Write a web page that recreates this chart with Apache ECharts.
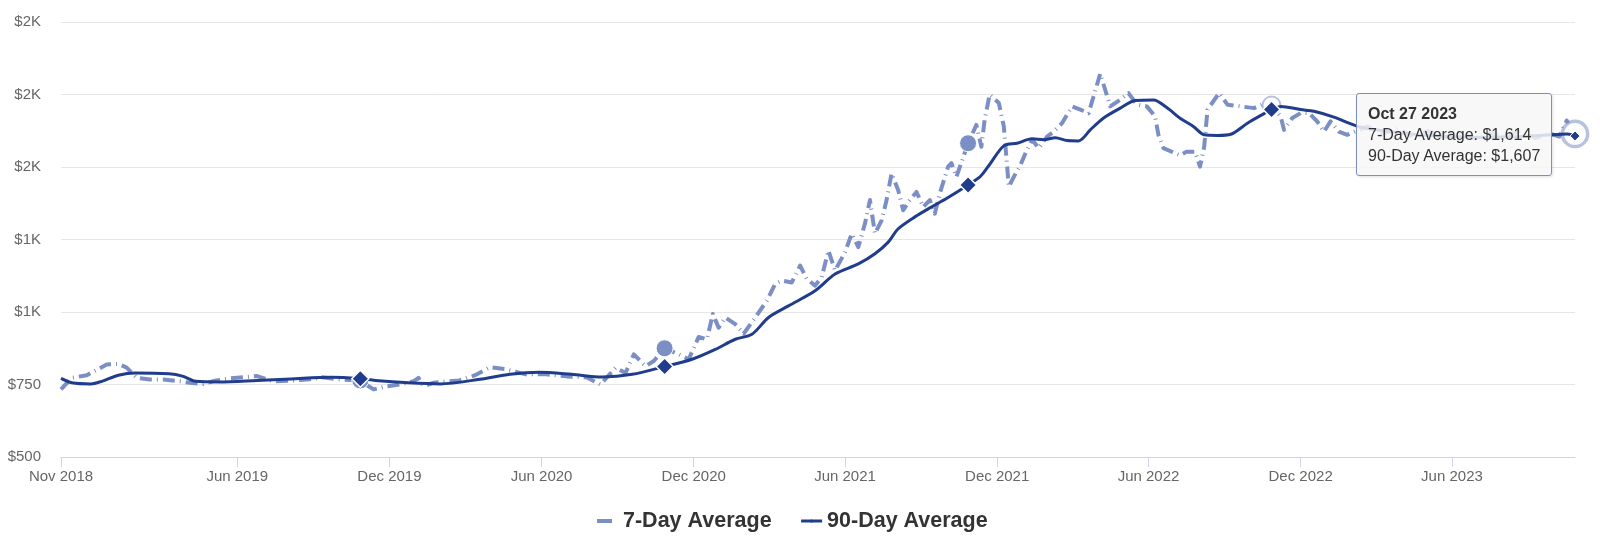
<!DOCTYPE html>
<html>
<head>
<meta charset="utf-8">
<script src="https://cdn.jsdelivr.net/npm/echarts@6/dist/echarts.min.js"></script>
<style>
html,body{margin:0;padding:0;background:#fff;}
#c{width:1600px;height:539px;}
</style>
</head>
<body>
<div id="c"></div>
<script>
// ---- data ----
const dates7 = [
'2018-11-01','2018-11-14','2018-12-02','2018-12-26','2019-01-09','2019-01-19','2019-01-31','2019-02-16','2019-03-04','2019-03-24',
'2019-04-05','2019-04-21','2019-05-07','2019-05-23','2019-06-08','2019-06-25','2019-07-14','2019-08-08','2019-08-24','2019-09-11',
'2019-10-03','2019-10-27','2019-11-06','2019-11-12','2019-11-28','2019-12-14','2019-12-30','2020-01-05','2020-01-11','2020-01-23',
'2020-02-23','2020-03-13','2020-03-31','2020-04-18','2020-05-13','2020-06-06','2020-07-01','2020-07-25','2020-08-11','2020-08-29',
'2020-09-10','2020-09-20','2020-10-04','2020-10-14','2020-10-27','2020-11-13','2020-11-25','2020-12-07','2020-12-17','2020-12-24',
'2020-12-31','2021-01-08','2021-01-20','2021-01-30','2021-02-13','2021-02-27','2021-03-09','2021-03-17','2021-03-29','2021-04-08',
'2021-04-16','2021-04-26','2021-05-04','2021-05-12','2021-05-20','2021-06-01','2021-06-09','2021-06-17','2021-06-25','2021-07-01',
'2021-07-07','2021-07-15','2021-07-21','2021-07-27','2021-08-04','2021-08-10','2021-08-18','2021-08-26','2021-09-03','2021-09-11',
'2021-09-17','2021-09-23','2021-10-03','2021-10-07','2021-10-13','2021-10-27','2021-11-06','2021-11-12','2021-11-16','2021-11-22',
'2021-12-03','2021-12-09','2021-12-15','2021-12-21','2021-12-29','2022-01-04','2022-01-12','2022-01-20','2022-01-30','2022-02-07',
'2022-02-17','2022-03-01','2022-03-11','2022-03-21','2022-03-27','2022-04-04','2022-04-16','2022-04-28','2022-05-08','2022-05-18',
'2022-05-30','2022-06-09','2022-06-13','2022-06-19','2022-07-01','2022-07-09','2022-07-17','2022-07-27','2022-08-02','2022-08-07',
'2022-08-11','2022-08-25','2022-09-04','2022-09-20','2022-10-06','2022-10-20','2022-10-27','2022-11-07','2022-11-11','2022-11-21',
'2022-12-01','2022-12-11','2022-12-21','2022-12-29','2023-01-06','2023-01-16','2023-01-26','2023-02-04','2023-02-20','2023-03-10',
'2023-03-28','2023-04-15','2023-05-03','2023-05-22','2023-06-10','2023-06-28','2023-07-16','2023-08-03','2023-08-22','2023-09-09',
'2023-09-27','2023-10-08','2023-10-17','2023-10-27'
];
const values7 = [
733,773,782,819,821,808,773,767,767,761,
756,752,764,771,775,779,761,764,767,775,
767,764,744,733,744,750,761,773,744,756,
764,782,810,803,785,785,778,775,750,808,
790,854,813,831,875,854,837,914,906,993,
946,981,958,925,981,1039,1097,1108,1102,1160,
1114,1091,1120,1212,1143,1206,1270,1224,1305,1386,
1270,1316,1386,1478,1420,1351,1386,1414,1362,1386,
1339,1409,1501,1513,1466,1582,1645,1570,1664,1750,
1721,1640,1432,1466,1507,1547,1594,1565,1605,1622,
1651,1709,1698,1686,1744,1822,1709,1732,1755,1715,
1709,1674,1610,1565,1550,1540,1553,1553,1501,1570,
1698,1755,1715,1709,1703,1721,1712,1674,1628,1669,
1686,1686,1657,1622,1657,1622,1611,1622,1640,1615,
1632,1605,1625,1600,1620,1598,1618,1605,1625,1600,
1615,1605,1660,1614
];
const dates90 = [
'2018-11-01','2018-11-14','2018-12-07','2018-12-20','2019-01-09','2019-01-29','2019-03-11','2019-03-27','2019-04-12','2019-05-10',
'2019-06-25','2019-08-04','2019-09-22','2019-10-27','2019-11-14','2019-12-24','2020-01-31','2020-03-19','2020-04-24','2020-05-29',
'2020-07-07','2020-08-13','2020-09-18','2020-10-27','2020-11-29','2020-12-27','2021-01-20','2021-02-09','2021-03-01','2021-03-25',
'2021-04-26','2021-05-20','2021-06-17','2021-07-07','2021-07-23','2021-08-04','2021-08-24','2021-09-13','2021-10-02','2021-10-27',
'2021-11-11','2021-11-23','2021-12-09','2021-12-25','2022-01-12','2022-01-26','2022-02-09','2022-02-23','2022-03-09','2022-03-23',
'2022-04-08','2022-04-28','2022-05-16','2022-06-07','2022-06-23','2022-07-09','2022-07-25','2022-08-07','2022-08-23','2022-09-08',
'2022-09-28','2022-10-18','2022-10-27','2022-11-07','2022-12-01','2022-12-17','2023-01-10','2023-01-28','2023-02-10','2023-03-10',
'2023-04-10','2023-05-10','2023-06-10','2023-07-10','2023-08-10','2023-09-10','2023-10-06','2023-10-18','2023-10-27'
];
const values90 = [
771,756,752,761,782,790,787,779,761,759,
764,769,775,770,764,756,752,768,785,792,
785,776,785,812,837,871,906,923,981,1021,
1073,1131,1166,1201,1241,1287,1328,1362,1393,1438,
1468,1513,1573,1582,1597,1594,1601,1591,1590,1628,
1669,1703,1729,1731,1705,1668,1640,1611,1609,1613,
1651,1684,1698,1709,1698,1692,1672,1651,1638,1625,
1615,1608,1604,1602,1604,1608,1612,1614,1607
];
const markDates = ['2019-10-27','2020-10-27','2021-10-27','2022-10-27','2023-10-27'];
const ringMarkDates = ['2022-10-27'];
const xTickDates = ['2018-11-01','2019-06-01','2019-12-01','2020-06-01','2020-12-01','2021-06-01','2021-12-01','2022-06-01','2022-12-01','2023-06-01'];
const xMin = '2018-11-01', xMax = '2023-10-27';
const yMin = 500, yMax = 2000, yStep = 250;

// ---- styling ----
const C7 = '#7b8fc4', C90 = '#1f3d8c';
const FONT = '"Liberation Sans", Arial, Helvetica, sans-serif';
const MON = ['Jan','Feb','Mar','Apr','May','Jun','Jul','Aug','Sep','Oct','Nov','Dec'];
function ts(s){ const p = s.split('-'); return Date.UTC(+p[0], +p[1]-1, +p[2]); }
function money(v){ return '$' + String(v).replace(/\B(?=(\d{3})+(?!\d))/g, ','); }
const lastMark = markDates[markDates.length-1];

function build(dates, values, styleFn){
  return dates.map((d,i) => {
    const item = { value: [ts(d), values[i]] };
    if (markDates.indexOf(d) >= 0) Object.assign(item, styleFn(d));
    return item;
  });
}
const data7 = build(dates7, values7, d => {
  if (d === lastMark) return { symbol:'circle', symbolSize:23, itemStyle:{ color:'#ffffff', borderColor:'rgba(123,143,196,0.55)', borderWidth:3.5 } };
  if (ringMarkDates.indexOf(d) >= 0) return { symbol:'circle', symbolSize:18, itemStyle:{ color:'#ffffff', borderColor:'rgba(123,143,196,0.55)', borderWidth:2 } };
  return { symbol:'circle', symbolSize:17, itemStyle:{ color:C7, borderColor:'#ffffff', borderWidth:1 } };
});
const data90 = build(dates90, values90, d => d === lastMark
  ? { symbol:'diamond', symbolSize:9, itemStyle:{ color:C90, borderColor:'#ffffff', borderWidth:1 } }
  : { symbol:'diamond', symbolSize:17, itemStyle:{ color:C90, borderColor:'#ffffff', borderWidth:1.5 } });

const xTicks = xTickDates.map(ts);
const chart = echarts.init(document.getElementById('c'), null, { renderer:'canvas' });
chart.setOption({
  animation: false,
  textStyle: { fontFamily: FONT },
  grid: { left: 61, right: 25, top: 22, bottom: 82, containLabel: false },
  legend: {
    left: 590, top: 505,
    itemWidth: 21, itemHeight: 4, itemGap: 28,
    selectedMode: false,
    textStyle: { fontSize: 21.5, fontWeight: 'bold', color: '#333333', fontFamily: FONT },
    data: [
      { name: '7-Day Average', lineStyle: { type: [15, 30], width: 4 } },
      { name: '90-Day Average', lineStyle: { width: 3 } }
    ]
  },
  tooltip: {
    trigger: 'axis',
    triggerOn: 'none',
    alwaysShowContent: true,
    axisPointer: { type: 'none' },
    position: [1356, 93],
    transitionDuration: 0,
    backgroundColor: 'rgba(247,247,247,0.85)',
    borderColor: C7,
    borderWidth: 1,
    padding: [9, 11],
    textStyle: { fontSize: 16, color: '#333333', fontFamily: FONT },
    extraCssText: 'border-radius:3px;box-shadow:1px 1px 3px rgba(0,0,0,0.12);line-height:21px;',
    formatter: params => {
      const d = new Date(params[0].value[0]);
      let html = '<div style="font-weight:bold;line-height:21px">' + MON[d.getUTCMonth()] + ' ' + d.getUTCDate() + ' ' + d.getUTCFullYear() + '</div>';
      params.forEach(p => { html += '<div style="line-height:21px">' + p.seriesName + ': ' + money(p.value[1]) + '</div>'; });
      return html;
    }
  },
  xAxis: {
    type: 'value',
    min: ts(xMin), max: ts(xMax),
    axisLine: { lineStyle: { color: '#ccd6eb', width: 1 } },
    axisTick: { show: true, length: 10, lineStyle: { color: '#ccd6eb' }, customValues: xTicks },
    axisLabel: {
      customValues: xTicks,
      fontSize: 15, color: '#666666', margin: 12, fontFamily: FONT,
      formatter: v => { const d = new Date(v); return MON[d.getUTCMonth()] + ' ' + d.getUTCFullYear(); }
    },
    splitLine: { show: false }
  },
  yAxis: {
    type: 'value',
    min: yMin, max: yMax, interval: yStep,
    axisLine: { show: false }, axisTick: { show: false },
    splitLine: { lineStyle: { color: '#e6e6e6', width: 1 } },
    axisLabel: {
      margin: 20, fontSize: 15, color: '#666666', fontFamily: FONT,
      formatter: v => v < 1000 ? '$' + v : '$' + Math.round(v / 1000) + 'K'
    }
  },
  series: [
    {
      name: '7-Day Average', type: 'line', symbol: 'none', showAllSymbol: true,
      data: data7, z: 2,
      lineStyle: { color: C7, width: 4, type: [12, 5, 1, 5], cap: 'butt', join: 'round' },
      itemStyle: { color: C7 },
      emphasis: { disabled: true }
    },
    {
      name: '90-Day Average', type: 'line', symbol: 'none', showAllSymbol: true,
      data: data90, z: 3, smooth: 0.3,
      lineStyle: { color: C90, width: 3 },
      itemStyle: { color: C90 },
      emphasis: { disabled: true }
    }
  ]
});
chart.dispatchAction({ type: 'showTip', seriesIndex: 0, dataIndex: data7.length - 1 });
</script>
</body>
</html>
